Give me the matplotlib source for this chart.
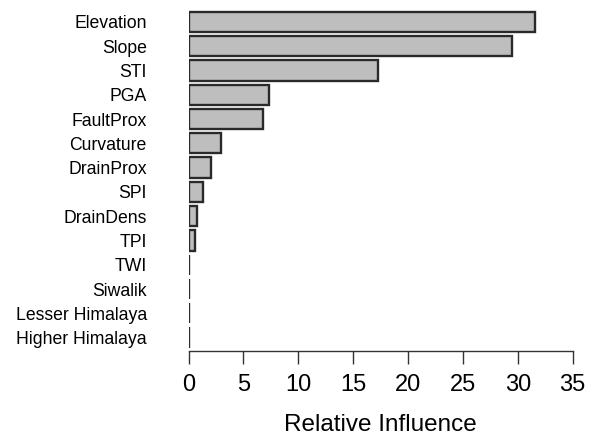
import matplotlib.pyplot as plt

plt.rcParams['font.family'] = ['Liberation Sans', 'DejaVu Sans']

variables = ['Elevation', 'Slope', 'STI', 'PGA', 'FaultProx', 'Curvature',
             'DrainProx', 'SPI', 'DrainDens', 'TPI', 'TWI', 'Siwalik',
             'Lesser Himalaya', 'Higher Himalaya']
influence = [31.6, 29.45, 17.3, 7.37, 6.8, 2.93,
             2.02, 1.29, 0.75, 0.56, 0.0, 0.0, 0.0, 0.0]
xticks = [0, 5, 10, 15, 20, 25, 30, 35]

fig = plt.figure(figsize=(5.95, 4.43), dpi=100)
ax = fig.add_axes([188.5 / 595, 1 - 350.7 / 443, (572.7 - 188.5) / 595, (350.7 - 10) / 443])

pos = list(range(len(variables)))
ax.barh(pos, influence, height=1 / 1.2, color='#bebebe', edgecolor='#2a2a2a', linewidth=1.7)

ax.set_ylim(13.54, -0.49)
ax.set_xlim(0, 35)
ax.set_yticks(pos)
ax.set_yticklabels(variables, fontsize=12.7)
ax.tick_params(axis='y', length=0, pad=30)

ax.set_xticks(xticks)
ax.set_xticklabels([str(t) for t in xticks], fontsize=17)
ax.tick_params(axis='x', length=9, width=1.0, pad=8, color='#333333')
ax.set_xlabel('Relative Influence', fontsize=17.5, labelpad=13)

for s in ['top', 'right', 'left']:
    ax.spines[s].set_visible(False)
ax.spines['bottom'].set_bounds(0, 35)
ax.spines['bottom'].set_linewidth(1.0)
ax.spines['bottom'].set_color('#333333')

plt.savefig('out.png', dpi=100)
plt.close()
